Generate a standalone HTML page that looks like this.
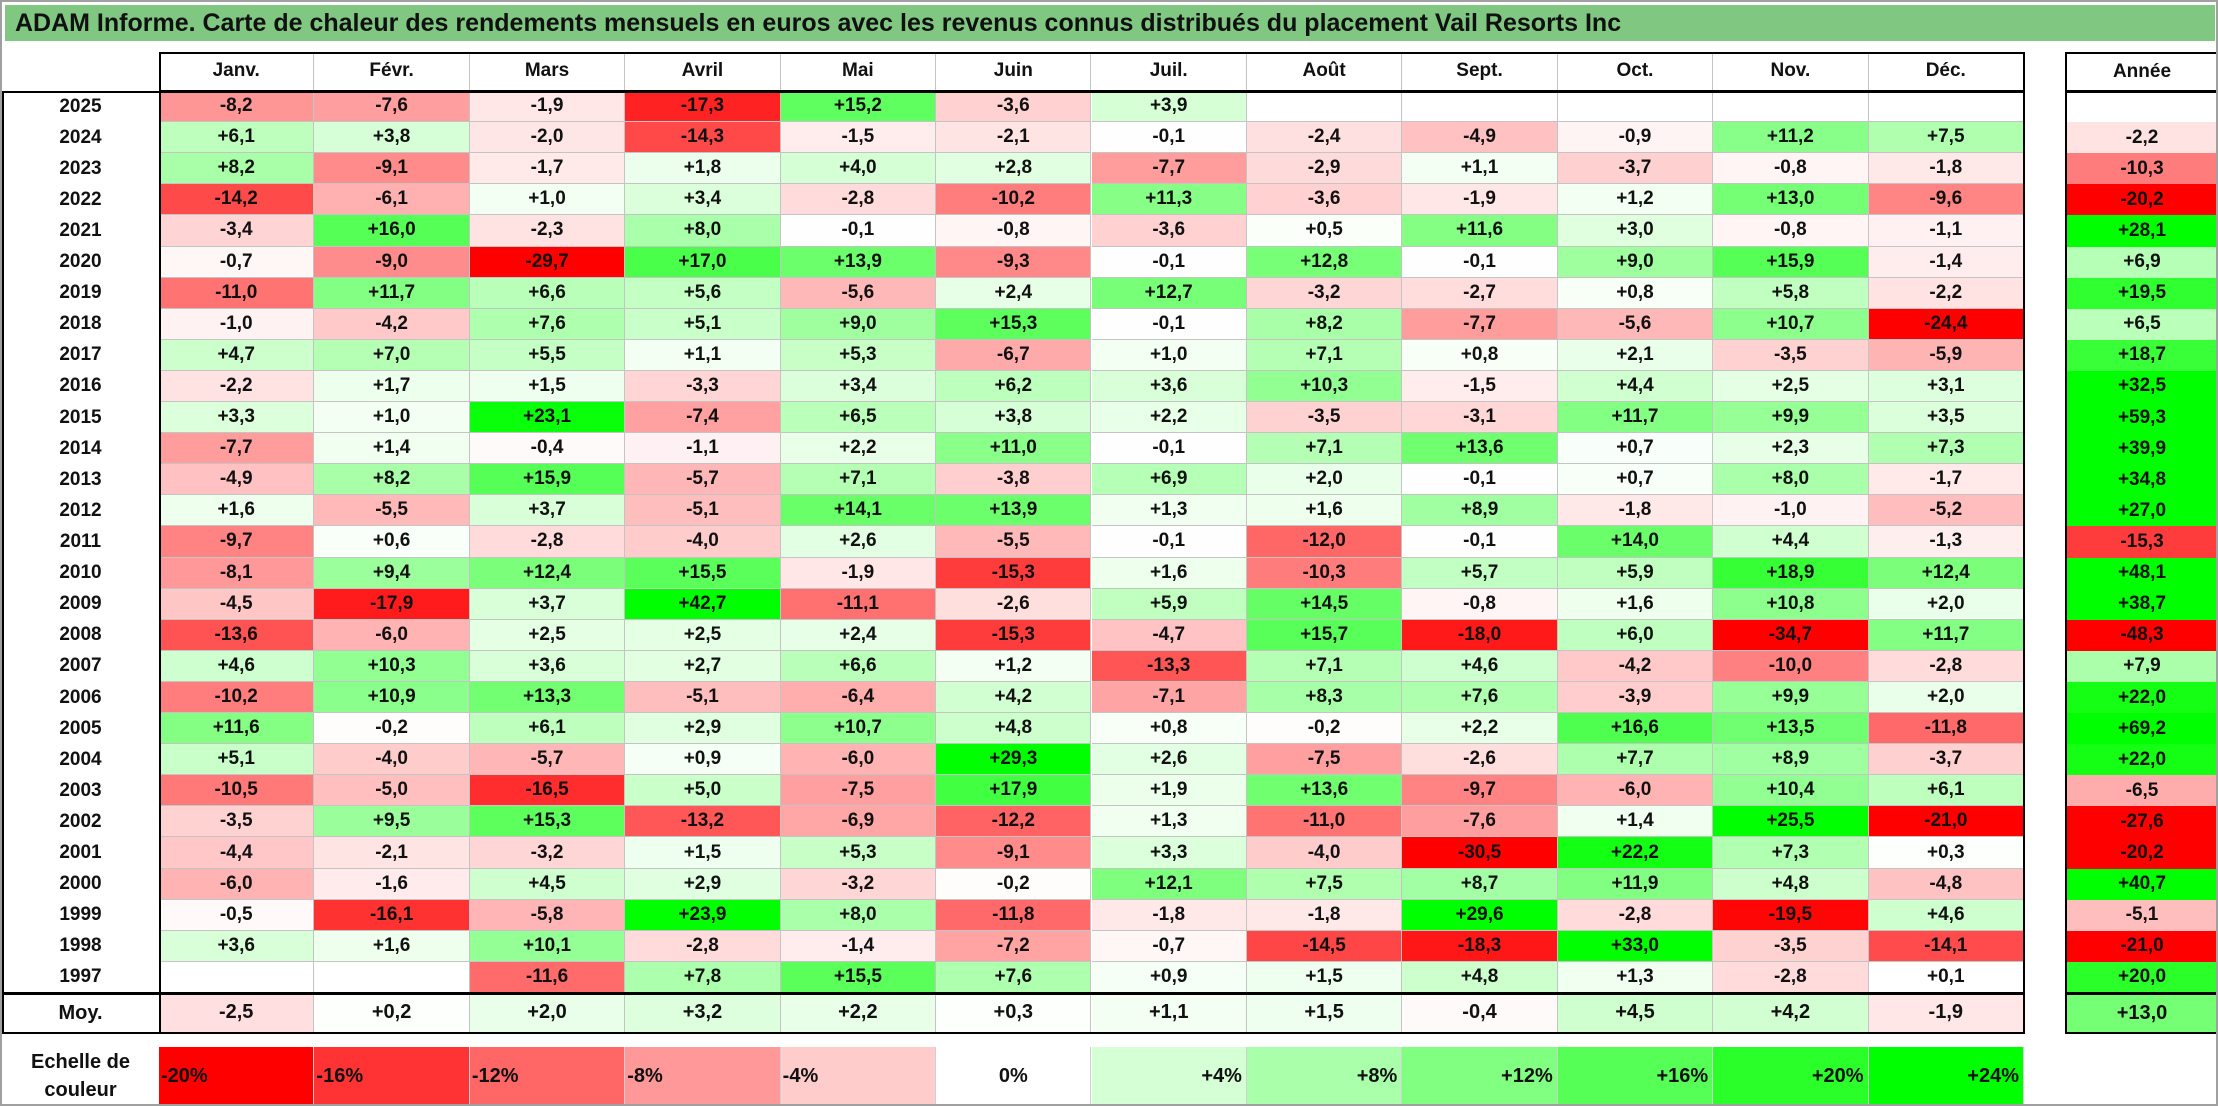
<!DOCTYPE html>
<html><head><meta charset="utf-8">
<style>
html,body{margin:0;padding:0;background:#fff;}
#root{position:relative;width:2218px;height:1106px;overflow:hidden;font-family:"Liberation Sans",Arial,sans-serif;font-weight:bold;color:#111;box-sizing:border-box;border:2px solid #a0a0a0;}
#title{position:absolute;left:3px;top:3px;width:2210px;height:36px;background:#80c882;font-size:25px;line-height:36px;padding-left:10px;box-sizing:border-box;color:#111;}
.c{position:absolute;box-sizing:border-box;font-size:19px;text-align:center;display:flex;align-items:center;justify-content:center;}
.g{border-right:1px solid #c4c4c4;border-bottom:1px solid #c4c4c4;}
.box{position:absolute;border:2px solid #000;box-sizing:border-box;pointer-events:none;}
.line{position:absolute;background:#000;}
</style></head><body>
<div id="root">
<div id="title">ADAM Informe. Carte de chaleur des rendements mensuels en euros avec les revenus connus distribués du placement Vail Resorts Inc</div>
</div>
<script>
const months=["Janv.","Févr.","Mars","Avril","Mai","Juin","Juil.","Août","Sept.","Oct.","Nov.","Déc."];
const years=["2025","2024","2023","2022","2021","2020","2019","2018","2017","2016","2015","2014","2013","2012","2011","2010","2009","2008","2007","2006","2005","2004","2003","2002","2001","2000","1999","1998","1997"];
const N=null;
const monthly=[
[-8.2,-7.6,-1.9,-17.3,15.2,-3.6,3.9,N,N,N,N,N],
[6.1,3.8,-2.0,-14.3,-1.5,-2.1,-0.1,-2.4,-4.9,-0.9,11.2,7.5],
[8.2,-9.1,-1.7,1.8,4.0,2.8,-7.7,-2.9,1.1,-3.7,-0.8,-1.8],
[-14.2,-6.1,1.0,3.4,-2.8,-10.2,11.3,-3.6,-1.9,1.2,13.0,-9.6],
[-3.4,16.0,-2.3,8.0,-0.1,-0.8,-3.6,0.5,11.6,3.0,-0.8,-1.1],
[-0.7,-9.0,-29.7,17.0,13.9,-9.3,-0.1,12.8,-0.1,9.0,15.9,-1.4],
[-11.0,11.7,6.6,5.6,-5.6,2.4,12.7,-3.2,-2.7,0.8,5.8,-2.2],
[-1.0,-4.2,7.6,5.1,9.0,15.3,-0.1,8.2,-7.7,-5.6,10.7,-24.4],
[4.7,7.0,5.5,1.1,5.3,-6.7,1.0,7.1,0.8,2.1,-3.5,-5.9],
[-2.2,1.7,1.5,-3.3,3.4,6.2,3.6,10.3,-1.5,4.4,2.5,3.1],
[3.3,1.0,23.1,-7.4,6.5,3.8,2.2,-3.5,-3.1,11.7,9.9,3.5],
[-7.7,1.4,-0.4,-1.1,2.2,11.0,-0.1,7.1,13.6,0.7,2.3,7.3],
[-4.9,8.2,15.9,-5.7,7.1,-3.8,6.9,2.0,-0.1,0.7,8.0,-1.7],
[1.6,-5.5,3.7,-5.1,14.1,13.9,1.3,1.6,8.9,-1.8,-1.0,-5.2],
[-9.7,0.6,-2.8,-4.0,2.6,-5.5,-0.1,-12.0,-0.1,14.0,4.4,-1.3],
[-8.1,9.4,12.4,15.5,-1.9,-15.3,1.6,-10.3,5.7,5.9,18.9,12.4],
[-4.5,-17.9,3.7,42.7,-11.1,-2.6,5.9,14.5,-0.8,1.6,10.8,2.0],
[-13.6,-6.0,2.5,2.5,2.4,-15.3,-4.7,15.7,-18.0,6.0,-34.7,11.7],
[4.6,10.3,3.6,2.7,6.6,1.2,-13.3,7.1,4.6,-4.2,-10.0,-2.8],
[-10.2,10.9,13.3,-5.1,-6.4,4.2,-7.1,8.3,7.6,-3.9,9.9,2.0],
[11.6,-0.2,6.1,2.9,10.7,4.8,0.8,-0.2,2.2,16.6,13.5,-11.8],
[5.1,-4.0,-5.7,0.9,-6.0,29.3,2.6,-7.5,-2.6,7.7,8.9,-3.7],
[-10.5,-5.0,-16.5,5.0,-7.5,17.9,1.9,13.6,-9.7,-6.0,10.4,6.1],
[-3.5,9.5,15.3,-13.2,-6.9,-12.2,1.3,-11.0,-7.6,1.4,25.5,-21.0],
[-4.4,-2.1,-3.2,1.5,5.3,-9.1,3.3,-4.0,-30.5,22.2,7.3,0.3],
[-6.0,-1.6,4.5,2.9,-3.2,-0.2,12.1,7.5,8.7,11.9,4.8,-4.8],
[-0.5,-16.1,-5.8,23.9,8.0,-11.8,-1.8,-1.8,29.6,-2.8,-19.5,4.6],
[3.6,1.6,10.1,-2.8,-1.4,-7.2,-0.7,-14.5,-18.3,33.0,-3.5,-14.1],
[N,N,-11.6,7.8,15.5,7.6,0.9,1.5,4.8,1.3,-2.8,0.1]
];
const yearly=[N,-2.2,-10.3,-20.2,28.1,6.9,19.5,6.5,18.7,32.5,59.3,39.9,34.8,27.0,-15.3,48.1,38.7,-48.3,7.9,22.0,69.2,22.0,-6.5,-27.6,-20.2,40.7,-5.1,-21.0,20.0];
const averages=[-2.5,0.2,2.0,3.2,2.2,0.3,1.1,1.5,-0.4,4.5,4.2,-1.9];
const averageYear=13.0;
const scaleSteps=[-20,-16,-12,-8,-4,0,4,8,12,16,20,24];

const root=document.getElementById('root');
const X0=157,CW=(2022-157)/12,HY=50,RY=89,RH=(991-89)/29,AX=2063,AW=2217-2063;
function colX(i){return X0+i*CW;}
function rowY(r){return RY+r*RH;}
function color(v){
  if(v===null)return '#fff';
  if(v<0){const t=Math.min(-v/20,1);const c=Math.round(255*(1-t));return `rgb(255,${c},${c})`;}
  const t=Math.min(v/24,1);const c=Math.round(255*(1-t));return `rgb(${c},255,${c})`;
}
function fmt(v){if(v===null)return '';return (v>0||Object.is(v,0)?'+':'')+v.toFixed(1).replace('.',',');}
function cell(x,y,w,h,txt,bg,cls){
  const d=document.createElement('div');
  d.className='c '+(cls||'');
  d.style.left=x+'px';d.style.top=y+'px';d.style.width=w+'px';d.style.height=h+'px';
  d.style.background=bg||'transparent';d.textContent=txt;
  root.appendChild(d);return d;
}
function box(x,y,w,h){const d=document.createElement('div');d.className='box';d.style.left=x+'px';d.style.top=y+'px';d.style.width=w+'px';d.style.height=h+'px';root.appendChild(d);return d;}

// headers
months.forEach((m,i)=>{
  const d=cell(colX(i),HY,CW,RY-HY,m,'#fff','g');
  
  
});
const ah=cell(AX,HY,AW,RY-HY,'Année','#fff');



// rows
years.forEach((y,r)=>{
  const l=cell(0,rowY(r),X0,RH,y,'#fff');
  
  
  monthly[r].forEach((v,i)=>{
    const d=cell(colX(i),rowY(r),CW,RH,fmt(v),color(v),'g');
    
    
  });
  const t=cell(AX,rowY(r),AW,RH,fmt(yearly[r]),color(yearly[r]));
  
  
});
// averages
const MY=rowY(29),MH=1031-MY;
const ml=cell(0,MY,X0,MH,'Moy.','#fff');
ml.style.fontSize='20px';


averages.forEach((v,i)=>{
  const d=cell(colX(i),MY,CW,MH,fmt(v),color(v),'g');
  d.style.fontSize='20px';
  
  
});
const at=cell(AX,MY,AW,MH,fmt(averageYear),color(averageYear));
at.style.fontSize='20px';



// borders
const b1=box(X0,HY,2022-X0+1,RY-HY+1);


const b2=box(0,RY,2022+1,MY-RY+1);


const b3=box(0,MY,2022+1,MH+1);


const v1=box(X0,RY,1,1031-RY);v1.style.border='none';v1.style.background='#000';v1.style.width='2px';


const b4=box(AX,HY,AW,RY-HY+1);


const b5=box(AX,RY,AW,MY-RY+1);


const b6=box(AX,MY,AW,MH+1);



// color scale
const SY=1045,SH=1103-SY;
const sl=cell(0,SY,X0,SH,'','#fff');
sl.innerHTML='Echelle de<br>couleur';sl.style.fontSize='20px';sl.style.lineHeight='28px';


scaleSteps.forEach((s,i)=>{
  const txt=(s>0?'+':'')+s+'%';
  const d=cell(colX(i),SY,CW,SH,txt,color(s));
  d.style.borderRight='1px solid #d0d0d0';
  d.style.fontSize='20px';
  if(s<0){d.style.justifyContent='flex-start';d.style.paddingLeft='2px';}
  else if(s>0){d.style.justifyContent='flex-end';d.style.paddingRight='4px';}
  
  
});
</script>
</body></html>
